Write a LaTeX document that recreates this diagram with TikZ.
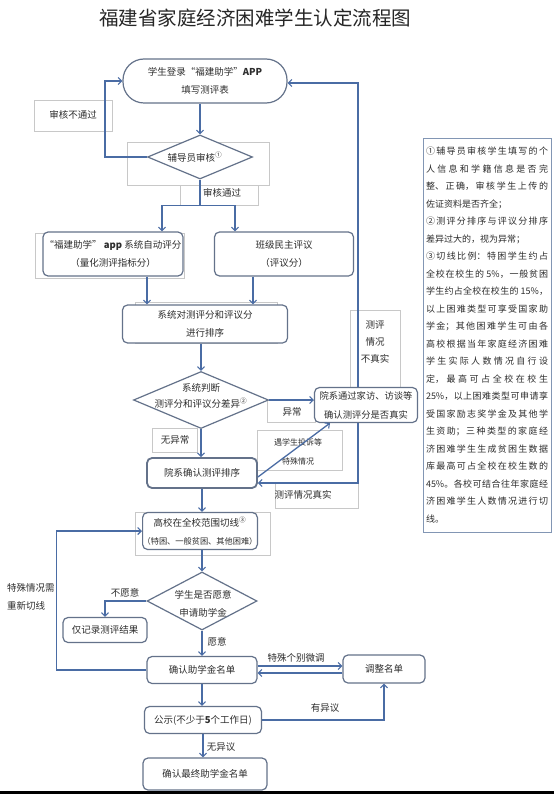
\documentclass[tikz,border=0pt]{standalone}
\usepackage{fontspec}
\setmainfont{Noto Sans CJK SC}
\usetikzlibrary{arrows.meta,shapes.geometric,calc}
\XeTeXlinebreaklocale "zh"
\XeTeXlinebreakskip=0pt plus 2pt
\definecolor{boxc}{RGB}{100,114,138}
\definecolor{arrc}{RGB}{74,108,164}
\definecolor{txtc}{RGB}{45,45,45}
\definecolor{frc}{RGB}{200,200,200}
\definecolor{notec}{RGB}{130,150,180}
\begin{document}
\begin{tikzpicture}[x=1pt,y=-1pt,
  every node/.style={font=\fontsize{9.5}{18}\selectfont,text=txtc,inner sep=0pt},
  box/.style={draw=boxc,line width=1.2pt,rounded corners=5pt,fill=white,align=center},
  dia/.style={draw=boxc,line width=1.2pt,diamond,fill=white,inner sep=0pt},
  frame/.style={draw=frc,line width=0.7pt},
  lab/.style={align=center},
  arr/.style={draw=arrc,line width=1.3pt,-{Straight Barb[length=3.5pt,width=7pt,line width=1.1pt]}},
  ln/.style={draw=arrc,line width=1.3pt}]
\useasboundingbox (0,0) rectangle (554,794);
\fill[white] (0,0) rectangle (554,794);

% faint text-box frames
\draw[frame] (127,142) rectangle (269,185);
\draw[frame] (180,185) rectangle (258,205);
\draw[frame] (35,233) rectangle (184,278);
\draw[frame] (135,302) rectangle (277,343);
\draw[frame] (135,512) rectangle (270,555);
\draw[frame] (34,100) rectangle (112,131);
\draw[frame] (350,310) rectangle (400,390);
\draw[frame] (267,400) rectangle (315,422);
\draw[frame] (152,428) rectangle (197,452);
\draw[frame] (257,430) rectangle (342,470);
\draw[frame] (275,482) rectangle (358,508);

% title
\node[font=\fontsize{19.5}{20}\selectfont,text=black!85] (title) at (255,18) {福建省家庭经济困难学生认定流程图};

% main nodes
\node[box,rounded corners=21pt,minimum width=164,minimum height=44] (top) at (205,81) {学生登录“福建助学”\textbf{APP}\\填写测评表};
\node[dia,minimum width=105,minimum height=44] (d1) at (200,157) {};
\node (d1t) at (195,157) {辅导员审核\textsuperscript{①}};
\node[box,minimum width=140,minimum height=44] (auto) at (113,254) {“福建助学” \textbf{app} 系统自动评分\\（量化测评指标分）};
\node[box,minimum width=139,minimum height=44] (class) at (284,254) {班级民主评议\\（评议分）};
\node[box,minimum width=165,minimum height=38] (sort) at (205,324) {系统对测评分和评议分\\进行排序};
\node[dia,minimum width=135,minimum height=57] (d2) at (201,400) {};
\node[align=center,font=\fontsize{9.5}{16}\selectfont] (d2t) at (201,396) {系统判断\\测评分和评议分差异\textsuperscript{②}};
\node[box,minimum width=103,minimum height=35,font=\fontsize{9.3}{19}\selectfont] (verify) at (366,405) {院系通过家访、访谈等\\确认测评分是否真实};
\node[box,line width=1.8pt,minimum width=110,minimum height=30] (confirm) at (202,473) {院系确认测评排序};
\node[box,minimum width=112,minimum height=37,font=\fontsize{9.5}{18}\selectfont] (cut) at (200,531) {高校在全校范围切线\textsuperscript{③}\\{\fontsize{8.2}{10}\selectfont（特困、一般贫困、其他困难）}};
\node[dia,minimum width=110,minimum height=58] (d3) at (202,601) {};
\node[align=center] (d3t) at (203,604) {学生是否愿意\\申请助学金};
\node[box,minimum width=84,minimum height=25] (record) at (105,630) {仅记录测评结果};
\node[box,minimum width=110,minimum height=27] (list) at (202,670) {确认助学金名单};
\node[box,minimum width=82,minimum height=28] (adjust) at (384,669) {调整名单};
\node[box,minimum width=117,minimum height=27] (pub) at (203,720) {公示(不少于\textbf{5}个工作日)};
\node[box,minimum width=124,minimum height=32] (final) at (205,774) {确认最终助学金名单};

% notes
\node[draw=notec,line width=0.9pt,minimum width=128,minimum height=394,text width=122,align=justify,font=\fontsize{9}{17.5}\selectfont] (notes) at (487,335) {①辅导员审核学生填写的个\linebreak
人信息和学籍信息是否完\linebreak
整、正确，审核学生上传的\linebreak
佐证资料是否齐全；\newline
②测评分排序与评议分排序\linebreak
差异过大的，视为异常；\newline
③切线比例：特困学生约占\linebreak
全校在校生的 5\%，一般贫困\linebreak
学生约占全校在校生的 15\%，\linebreak
以上困难类型可享受国家助\linebreak
学金；其他困难学生可由各\linebreak
高校根据当年家庭经济困难\linebreak
学生实际人数情况自行设\linebreak
定，最高可占全校在校生\linebreak
25\%，以上困难类型可申请享\linebreak
受国家励志奖学金及其他学\linebreak
生资助；三种类型的家庭经\linebreak
济困难学生生成贫困生数据\linebreak
库最高可占全校在校生数的\linebreak
45\%。各校可结合往年家庭经\linebreak
济困难学生人数情况进行切\linebreak
线。};

% labels
\node (l1) at (73,115) {审核不通过};
\node (l2) at (222,193) {审核通过};
\node[align=center,font=\fontsize{9.5}{17}\selectfont] (l3) at (375,342) {测评\\情况\\不真实};
\node (l4) at (292,412) {异常};
\node (l5) at (175,440) {无异常};
\node[align=center,font=\fontsize{8}{19}\selectfont] (l6) at (298,452) {遇学生投诉等\\特殊情况};
\node (l7) at (303,495) {测评情况真实};
\node[align=left,anchor=west] (l8) at (7,597) {特殊情况需\\重新切线};
\node (l9) at (125,593) {不愿意};
\node (l10) at (217,642) {愿意};
\node (l11) at (296,658) {特殊个别微调};
\node (l12) at (325,708) {有异议};
\node (l13) at (221,747) {无异议};

% connectors
\draw[arr] (d1.west) -- ++(-42,0) |- (top.west);
\draw[arr] (top.south -| d1.north) -- (d1.north);
\draw[ln] (d1.south) -- ++(0,26) coordinate (sp);
\draw[arr] (sp) -| ($(auto.north)+(49,0)$);
\draw[arr] (sp) -| ($(class.north)+(-49,0)$);
\draw[arr] ($(auto.south)+(34,0)$) coordinate (a1) -- (a1 |- sort.north);
\draw[arr] ($(class.south)+(-31,0)$) coordinate (a2) -- (a2 |- sort.north);
\draw[arr] (sort.south -| d2.north) -- (d2.north);
\draw[arr] (d2.east) -- (d2.east -| verify.west);
\draw[arr] (d2.south) -- (d2.south |- confirm.north);
\draw[arr] ($(verify.north)+(-8,0)$) |- ($(top.east)+(0,2)$);
\draw[arr] ($(verify.south)+(-8,0)$) |- ($(confirm.east)+(0,10)$);
\draw[arr] ($(confirm.east)+(0,4)$) -- ($(verify.south)+(-36,0)$);
\draw[arr] (confirm.south) -- (confirm.south |- cut.north);
\draw[arr] (cut.south -| d3.north) -- (d3.north);
\draw[arr] (d3.west) -| (record.north);
\draw[arr] (d3.south) -- (d3.south |- list.north);
\draw[arr] (list.west) -- ++(-90,0) |- (cut.west);
\draw[arr] ($(list.east)+(0,-4)$) -- ($(adjust.west)+(0,-3)$);
\draw[arr] ($(adjust.west)+(0,4)$) -- ($(list.east)+(0,3)$);
\draw[arr] (list.south) -- (list.south |- pub.north);
\draw[arr] (pub.east) -| (adjust.south);
\draw[arr] (pub.south) -- (pub.south |- final.north);

\fill[black] (0,791) rectangle (554,794);
\end{tikzpicture}
\end{document}
